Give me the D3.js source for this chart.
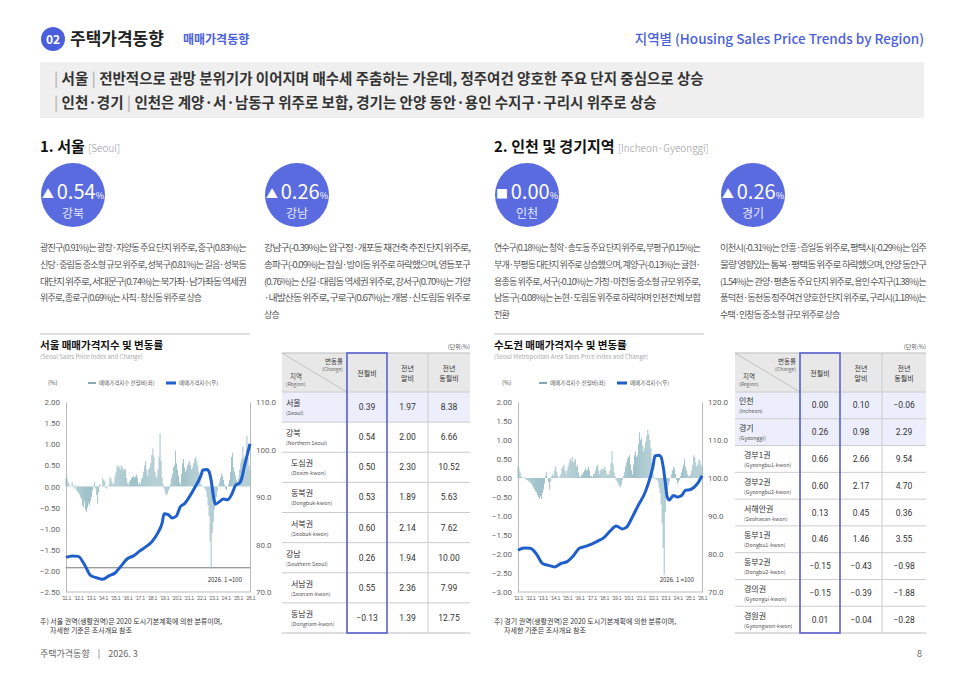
<!DOCTYPE html>
<html><head><meta charset="utf-8">
<script src="https://cdn.jsdelivr.net/npm/d3@7"></script>
<style>
body{margin:0;background:#fff;}
svg{font-family:"Noto Sans CJK KR","Noto Sans",sans-serif;}
</style></head><body>
<svg id="page" width="966" height="683"></svg>
<script>
// ---- data ----
var seoulBars = [
	0.20,0.18,0.12,0.05,-0.02,0.00,0.10,0.02,-0.05,0.03,-0.08,-0.12,
	-0.15,-0.18,-0.25,-0.30,-0.45,-0.50,-0.35,-0.55,-0.60,-0.50,-0.40,-0.45,
	-0.35,-0.25,-0.10,0.02,0.10,-0.05,-0.20,-0.40,-0.15,0.05,0.02,0.00,
	0.20,0.15,0.12,-0.03,-0.05,0.00,0.05,0.22,0.18,0.10,0.05,0.08,
	0.25,0.35,0.50,0.45,0.48,0.40,0.50,0.45,0.38,0.42,0.40,0.20,
	0.08,0.05,0.12,0.15,0.20,0.22,0.25,0.20,0.24,0.28,0.20,0.05,
	0.10,0.05,0.18,0.22,0.35,0.50,0.60,0.40,0.25,0.40,0.45,0.55,
	0.75,0.90,0.70,0.35,0.25,0.20,0.40,0.70,1.25,0.60,0.20,0.05,
	-0.05,-0.15,-0.20,-0.18,-0.10,-0.05,0.05,0.20,0.30,0.45,0.50,0.85,
	0.55,0.40,0.25,0.10,0.05,0.30,0.55,0.65,0.45,0.35,0.40,0.50,
	0.55,0.60,0.50,0.40,0.45,0.55,0.65,0.70,0.60,0.50,0.35,0.20,
	0.05,0.02,0.00,-0.02,-0.05,-0.10,-0.25,-0.45,-0.70,-1.30,-1.95,-1.10,
	-0.85,-0.55,-0.40,-0.25,-0.10,0.02,0.10,0.20,0.30,0.25,0.15,0.05,
	-0.05,-0.08,0.00,0.05,0.15,0.35,0.70,0.80,0.45,0.35,0.25,0.15,
	0.10,0.20,0.40,0.55,0.65,0.95,0.70,0.55,0.60,1.20,0.70,0.50,
	0.39];
var metroBars = [
	0.30,0.25,0.15,0.05,0.02,0.00,-0.02,0.02,-0.05,-0.05,-0.08,-0.10,
	-0.12,-0.15,-0.20,-0.25,-0.30,-0.35,-0.38,-0.45,-0.50,-0.55,-0.48,-0.55,
	-0.40,-0.30,-0.15,0.05,0.15,0.00,-0.10,-0.30,-0.10,0.05,0.10,0.05,
	0.20,0.30,0.15,0.05,0.00,0.05,0.10,0.25,0.30,0.35,0.20,0.10,
	0.20,0.30,0.40,0.50,0.45,0.55,0.40,0.45,0.50,0.30,0.35,0.15,
	0.05,0.02,0.08,0.10,0.15,0.20,0.25,0.20,0.22,0.30,0.20,0.05,
	0.05,0.03,0.10,0.12,0.20,0.30,0.35,0.20,0.10,0.20,0.25,0.20,
	0.25,0.30,0.20,0.10,0.08,0.10,0.20,0.40,0.70,0.35,0.15,0.05,
	-0.05,-0.10,-0.15,-0.20,-0.25,-0.18,-0.05,0.05,0.15,0.30,0.40,0.50,
	0.55,0.60,0.35,0.20,0.10,0.35,0.60,0.70,0.55,0.60,0.90,1.20,
	1.00,1.05,0.85,0.70,0.80,0.95,1.10,1.27,1.15,1.00,0.80,0.40,
	0.10,0.02,-0.02,-0.03,-0.05,-0.10,-0.25,-0.40,-0.70,-1.20,-1.85,-2.55,
	-0.90,-0.50,-0.30,-0.20,-0.10,0.00,0.10,0.20,0.30,0.25,0.10,-0.05,
	-0.15,-0.10,-0.05,0.05,0.15,0.25,0.35,0.50,0.30,0.20,0.10,0.05,
	0.05,0.10,0.20,0.35,0.60,0.55,0.40,0.30,0.35,0.50,0.45,0.35,
	0.30];
// index line: [months since 2011.1, index]
var seoulIndex = [[0,77.3],[6,77.6],[12,77.5],[18,75.8],[24,73.5],[30,73.0],[36,72.7],[42,73.4],[48,74.0],[54,75.5],
	[60,77.0],[66,77.6],[72,78.6],[78,79.5],[84,80.6],[90,82.5],[94,84.5],[96,86.5],[100,86.3],[104,85.6],
	[108,86.0],[112,88.0],[116,88.6],[120,89.8],[126,92.0],[132,94.5],[134,95.7],[138,95.8],[140,95.3],
	[142,93.5],[144,90.5],[146,88.5],[150,89.0],[154,89.6],[158,89.4],[162,90.5],[166,92.5],[170,93.0],
	[172,94.0],[174,96.0],[176,97.8],[178,99.5],[180,101.2]];
var metroIndex = [[0,81.0],[6,81.6],[12,81.5],[18,80.0],[24,77.5],[30,77.0],[36,76.6],[42,77.5],[48,78.0],[54,79.5],
	[60,81.5],[66,82.0],[72,82.6],[78,83.4],[84,84.3],[90,86.0],[96,87.4],[102,86.6],[106,87.0],[112,89.8],
	[118,93.0],[124,96.0],[128,99.0],[132,103.0],[134,105.8],[138,106.0],[140,105.5],[142,103.0],[144,99.0],
	[146,95.0],[148,94.2],[152,95.4],[156,95.0],[160,95.4],[164,96.8],[168,96.9],[172,97.5],[176,98.7],[180,100.6]];
var xTickLabels = ["'11.1","'12.1","'13.1","'14.1","'15.1","'16.1","'17.1","'18.1","'19.1","'20.1","'21.1","'22.1","'23.1","'24.1","'25.1","'26.1"];

var seoulRegions = ["서울","강북","도심권","동북권","서북권","강남","서남권","동남권"];
var seoulRegionsEn = ["(Seoul)","(Northern Seoul)","(Dosim-kwon)","(Dongbuk-kwon)","(Seobuk-kwon)","(Southern Seoul)","(Seonam-kwon)","(Dongnam-kwon)"];
var seoulMoM = ["0.39","0.54","0.50","0.53","0.60","0.26","0.55","−0.13"];
var seoulYtd = ["1.97","2.00","2.30","1.89","2.14","1.94","2.36","1.39"];
var seoulYoY = ["8.38","6.66","10.52","5.63","7.62","10.00","7.99","12.75"];
var seoulIndent = [0,0,1,1,1,0,1,1];
var seoulHighlight = [1,0,0,0,0,0,0,0];

var metroRegions = ["인천","경기","경부1권","경부2권","서해안권","동부1권","동부2권","경의권","경원권"];
var metroRegionsEn = ["(Incheon)","(Gyeonggi)","(Gyeongbu1-kwon)","(Gyeongbu2-kwon)","(Seohaean-kwon)","(Dongbu1-kwon)","(Dongbu2-kwon)","(Gyeongui-kwon)","(Gyeongwon-kwon)"];
var metroMoM = ["0.00","0.26","0.66","0.60","0.13","0.46","−0.15","−0.15","0.01"];
var metroYtd = ["0.10","0.98","2.66","2.17","0.45","1.46","−0.43","−0.39","−0.04"];
var metroYoY = ["−0.06","2.29","9.54","4.70","0.36","3.55","−0.98","−1.88","−0.28"];
var metroIndent = [0,0,1,1,1,1,1,1,1];
var metroHighlight = [1,1,0,0,0,0,0,0,0];

var circleVals = ["0.54","0.26","0.00","0.26"];
var circleNames = ["강북","강남","인천","경기"];
var circleMarks = ["▲","▲","■","▲"];

var paragraphs = [
	["광진구(0.91%)는 광장·자양동 주요 단지 위주로, 중구(0.83%)는","신당·중림동 중소형 규모 위주로, 성북구(0.81%)는 길음·성북동","대단지 위주로, 서대문구(0.74%)는 북가좌·남가좌동 역세권","위주로, 종로구(0.69%)는 사직·창신동 위주로 상승"],
	["강남구(-0.39%)는 압구정·개포동 재건축 추진 단지 위주로,","송파구(-0.09%)는 잠실·방이동 위주로 하락했으며, 영등포구","(0.76%)는 신길·대림동 역세권 위주로, 강서구(0.70%)는 가양","·내발산동 위주로, 구로구(0.67%)는 개봉·신도림동 위주로","상승"],
	["연수구(0.18%)는 청학·송도동 주요 단지 위주로, 부평구(0.15%)는","부개·부평동 대단지 위주로 상승했으며, 계양구(-0.13%)는 귤현·","용종동 위주로, 서구(-0.10%)는 가정·마전동 중소형 규모 위주로,","남동구(-0.08%)는 논현·도림동 위주로 하락하며 인천 전체 보합","전환"],
	["이천시(-0.31%)는 안흥·증일동 위주로, 평택시(-0.29%)는 입주","물량 영향있는 통복·평택동 위주로 하락했으며, 안양 동안구","(1.54%)는 관양·평촌동 주요 단지 위주로, 용인 수지구(1.38%)는","풍덕천·동천동 정주여건 양호한 단지 위주로, 구리시(1.18%)는","수택·인창동 중소형 규모 위주로 상승"]];

var BLUE = '#5a6be0', LINE = '#1f5fcc', BAR = '#93b9c2';
var svg = d3.select('#page');

// ---- header ----
svg.append('circle').attr('cx',53).attr('cy',39).attr('r',12).attr('fill','#4b5fdc');
svg.append('text').attr('x',53).attr('y',43.5).attr('text-anchor','middle').attr('fill','#fff')
	.attr('font-size',12).attr('font-weight',700).text('02');
svg.append('text').attr('x',70).attr('y',45).attr('font-size',17).attr('font-weight',700).attr('fill','#222').text('주택가격동향');
svg.append('text').attr('x',183).attr('y',44).attr('font-size',12).attr('font-weight',700).attr('fill','#4b5fdc').text('매매가격동향');
svg.append('text').attr('x',924).attr('y',44).attr('text-anchor','end').attr('font-size',13.5).attr('font-weight',500).attr('fill','#4b5fdc')
	.text('지역별 (Housing Sales Price Trends by Region)');

svg.append('rect').attr('x',40).attr('y',62).attr('width',884).attr('height',56).attr('fill','#efefef');
var headLines = [["서울","전반적으로 관망 분위기가 이어지며 매수세 주춤하는 가운데, 정주여건 양호한 주요 단지 중심으로 상승"],
	["인천·경기","인천은 계양·서·남동구 위주로 보합, 경기는 안양 동안·용인 수지구·구리시 위주로 상승"]];
headLines.forEach(function(l, i) {
	var t = svg.append('text').attr('x',54).attr('y',84 + i*24).attr('font-size',14.5).attr('font-weight',700).attr('fill','#333');
	t.append('tspan').attr('fill','#bbb').text('| ');
	t.append('tspan').text(l[0] + ' ');
	t.append('tspan').attr('fill','#bbb').text('| ');
	t.append('tspan').text(l[1]);
});

// ---- section titles ----
[[40,"1. 서울","[Seoul]"],[494,"2. 인천 및 경기지역","[Incheon·Gyeonggi]"]].forEach(function(s) {
	var t = svg.append('text').attr('x',s[0]).attr('y',152).attr('font-size',15).attr('font-weight',700).attr('fill','#111');
	t.append('tspan').text(s[1] + ' ');
	t.append('tspan').attr('font-size',10).attr('font-weight',300).attr('fill','#999').text(s[2]);
});

// ---- circles & paragraphs ----
var paraX = [40, 264, 494, 720];
paraX.forEach(function(px, i) {
	var cx = px + 33;
	svg.append('circle').attr('cx',cx).attr('cy',195).attr('r',32).attr('fill',BLUE);
	var t = svg.append('text').attr('x',cx).attr('y',199).attr('text-anchor','middle').attr('fill','#fff');
	t.append('tspan').attr('font-size',12).text(circleMarks[i] + ' ');
	t.append('tspan').attr('font-size',20).text(circleVals[i]);
	t.append('tspan').attr('font-size',9).text('%');
	svg.append('text').attr('x',cx).attr('y',218).attr('text-anchor','middle').attr('fill','#e6e8ff')
		.attr('font-size',12).text(circleNames[i]);
	paragraphs[i].forEach(function(line, j) {
		var tt = svg.append('text').attr('x',px).attr('y',251 + j*16.8).attr('font-size',9).attr('fill','#555')
			.attr('letter-spacing',-0.9).text(line);
		if (j < paragraphs[i].length - 1) tt.attr('textLength',206).attr('lengthAdjust','spacingAndGlyphs');
	});
});

// ---- charts ----
function drawChart(o) {
	var g = svg.append('g');
	g.append('line').attr('x1',o.left).attr('x2',o.left + 210).attr('y1',334).attr('y2',334).attr('stroke','#bbb');
	g.append('text').attr('x',o.left).attr('y',349).attr('font-size',10.5).attr('font-weight',700).attr('fill','#111').text(o.title);
	g.append('text').attr('x',o.left).attr('y',359).attr('font-size',6).attr('fill','#aaa').text(o.sub);

	var x = d3.scaleLinear().domain([0,180]).range([o.x0,o.x1]);
	var yL = d3.scaleLinear().domain(o.leftDomain).range([592,402]);
	var yR = d3.scaleLinear().domain(o.rightDomain).range([592,402]);
	var bw = (o.x1 - o.x0) / 181 * 0.85;

	// legend
	g.append('text').attr('x',o.left + 8).attr('y',385).attr('font-size',6).attr('fill','#555').text('(%)');
	g.append('line').attr('x1',o.lg).attr('x2',o.lg + 8).attr('y1',383).attr('y2',383).attr('stroke','#5d8c99').attr('stroke-width',1.5);
	g.append('text').attr('x',o.lg + 11).attr('y',385).attr('font-size',5.5).attr('fill','#555').text('매매가격지수 전월비(좌)');
	g.append('line').attr('x1',o.lg + 78).attr('x2',o.lg + 88).attr('y1',383).attr('y2',383).attr('stroke',LINE).attr('stroke-width',3);
	g.append('text').attr('x',o.lg + 91).attr('y',385).attr('font-size',5.5).attr('fill','#555').text('매매가격지수(우)');

	// axes
	var la = g.append('g').attr('transform','translate(' + o.x0 + ',0)')
		.call(d3.axisLeft(yL).tickValues(d3.range(o.leftDomain[0], o.leftDomain[1] + 0.01, 0.5)).tickFormat(d3.format('.2f')).tickSize(0).tickPadding(6));
	var ra = g.append('g').attr('transform','translate(' + o.x1 + ',0)')
		.call(d3.axisRight(yR).tickValues(d3.range(o.rightDomain[0], o.rightDomain[1] + 0.1, 10)).tickFormat(d3.format('.1f')).tickSize(0).tickPadding(6));
	[la, ra].forEach(function(a) {
		a.select('.domain').attr('stroke','#bbb');
		a.selectAll('text').attr('font-size',8).attr('fill','#666').attr('font-family','Roboto, sans-serif');
	});
	la.selectAll('text').text(function(d) { return d3.format('.2f')(d).replace('-0.00','0.00'); });
	g.append('line').attr('x1',o.x0).attr('x2',o.x1).attr('y1',592).attr('y2',592).attr('stroke','#bbb');

	var xa = g.append('g').attr('transform','translate(0,592)')
		.call(d3.axisBottom(x).tickValues(d3.range(0,181,12)).tickFormat(function(d, i) { return xTickLabels[i]; }).tickSize(0).tickPadding(4));
	xa.select('.domain').remove();
	xa.selectAll('text').attr('font-size',5.2).attr('fill','#666').attr('letter-spacing',-0.3);

	if (o.refLine) g.append('line').attr('x1',o.x0).attr('x2',o.x1).attr('y1',yR(o.refLine)).attr('y2',yR(o.refLine)).attr('stroke','#555').attr('stroke-width',0.8);

	g.append('g').selectAll('rect').data(o.bars).join('rect')
		.attr('x', function(d, i) { return x(i) - bw / 2; })
		.attr('width', bw)
		.attr('y', function(d) { return yL(Math.max(0, d)); })
		.attr('height', function(d) { return Math.abs(yL(d) - yL(0)); })
		.attr('fill', BAR);

	g.append('path').datum(o.line)
		.attr('d', d3.line().x(function(d) { return x(d[0]); }).y(function(d) { return yR(d[1]); }).curve(d3.curveMonotoneX))
		.attr('fill','none').attr('stroke',LINE).attr('stroke-width',3).attr('stroke-linejoin','round');

	g.append('text').attr('x',o.x1 - 8).attr('y',582).attr('text-anchor','end').attr('font-size',6).attr('fill','#333').text('2026. 1 =100');

	g.append('text').attr('x',o.left).attr('y',624).attr('font-size',7).attr('fill','#333').text(o.note);
	g.append('text').attr('x',o.left + 10).attr('y',633).attr('font-size',7).attr('fill','#333').text('자세한 기준은 조사개요 참조');
}

drawChart({left:40, title:'서울 매매가격지수 및 변동률', sub:'(Seoul Sales Price Index and Change)', lg:88,
	x0:66, x1:250, leftDomain:[-2.5,2.0], rightDomain:[70,110], bars:seoulBars, line:seoulIndex, refLine:75.1,
	note:'주) 서울 권역(생활권역)은 2020 도시기본계획에 의한 분류이며,'});
drawChart({left:494, title:'수도권 매매가격지수 및 변동률', sub:'(Seoul Metropolitan Area Sales Price Index and Change)', lg:539,
	x0:518, x1:702, leftDomain:[-3.0,2.0], rightDomain:[70,120], bars:metroBars, line:metroIndex,
	note:'주) 경기 권역(생활권역)은 2020 도시기본계획에 의한 분류이며,'});

// ---- tables ----
function drawTable(o) {
	var g = svg.append('g');
	var cols = o.cols, top = 353, hb = 392, bottom = 633;
	var rh = (bottom - hb) / o.regions.length;
	g.append('text').attr('x',cols[4]).attr('y',349).attr('text-anchor','end').attr('font-size',6).attr('fill','#555').text('(단위:%)');
	g.append('rect').attr('x',cols[0]).attr('y',top).attr('width',cols[4] - cols[0]).attr('height',hb - top).attr('fill','#e8e8e8');
	o.regions.forEach(function(r, i) {
		var y = hb + i * rh;
		g.append('rect').attr('x',cols[0]).attr('y',y).attr('width',cols[4] - cols[0]).attr('height',rh)
			.attr('fill', o.highlight[i] ? '#eceefb' : '#fff');
		g.append('line').attr('x1',cols[0]).attr('x2',cols[4]).attr('y1',y).attr('y2',y).attr('stroke','#ccc');
		var ix = cols[0] + 4 + o.indent[i] * 5;
		g.append('text').attr('x',ix).attr('y',y + rh / 2 - 1).attr('font-size',8).attr('fill','#333').text(r);
		g.append('text').attr('x',ix).attr('y',y + rh / 2 + 8).attr('font-size',5.3).attr('fill','#555').text(o.en[i]);
		[o.mom[i], o.ytd[i], o.yoy[i]].forEach(function(v, c) {
			g.append('text').attr('x',(cols[c + 1] + cols[c + 2]) / 2).attr('y',y + rh / 2 + 3).attr('text-anchor','middle')
				.attr('font-size',8.5).attr('fill','#333').attr('font-family','Roboto, sans-serif').text(v);
		});
	});
	g.append('line').attr('x1',cols[0]).attr('x2',cols[4]).attr('y1',top).attr('y2',top).attr('stroke','#bbb');
	g.append('line').attr('x1',cols[0]).attr('x2',cols[4]).attr('y1',bottom).attr('y2',bottom).attr('stroke','#bbb');
	[1,3].forEach(function(c) {
		g.append('line').attr('x1',cols[c]).attr('x2',cols[c]).attr('y1',top).attr('y2',bottom).attr('stroke','#ccc');
	});
	g.append('line').attr('x1',cols[0]).attr('x2',cols[1]).attr('y1',top).attr('y2',hb).attr('stroke','#aaa').attr('stroke-width',0.6);
	g.append('text').attr('x',cols[1] - 4).attr('y',364).attr('text-anchor','end').attr('font-size',6.5).attr('fill','#444').text('변동률');
	g.append('text').attr('x',cols[1] - 4).attr('y',371).attr('text-anchor','end').attr('font-size',5).attr('fill','#666').text('(Change)');
	g.append('text').attr('x',cols[0] + 8).attr('y',379).attr('font-size',6.5).attr('fill','#444').text('지역');
	g.append('text').attr('x',cols[0] + 4).attr('y',386).attr('font-size',5).attr('fill','#666').text('(Region)');
	var heads = [['전월비'],['전년','말비'],['전년','동월비']];
	heads.forEach(function(h, c) {
		var cx = (cols[c + 1] + cols[c + 2]) / 2;
		h.forEach(function(s, k) {
			g.append('text').attr('x',cx).attr('y',(h.length === 1 ? 376 : 371) + k * 10).attr('text-anchor','middle')
				.attr('font-size',7).attr('fill','#333').text(s);
		});
	});
	g.append('rect').attr('x',cols[1]).attr('y',top).attr('width',cols[2] - cols[1]).attr('height',bottom - top)
		.attr('fill','none').attr('stroke','#5a62d0').attr('stroke-width',1.6);
}
drawTable({cols:[282,347,387,428,470], regions:seoulRegions, en:seoulRegionsEn, mom:seoulMoM, ytd:seoulYtd, yoy:seoulYoY,
	indent:seoulIndent, highlight:seoulHighlight});
drawTable({cols:[735,800,840,882,926], regions:metroRegions, en:metroRegionsEn, mom:metroMoM, ytd:metroYtd, yoy:metroYoY,
	indent:metroIndent, highlight:metroHighlight});

// ---- footer ----
svg.append('text').attr('x',40).attr('y',657).attr('font-size',9).attr('fill','#666').attr('xml:space','preserve').text('주택가격동향    |    2026. 3');
svg.append('text').attr('x',922).attr('y',657).attr('text-anchor','end').attr('font-size',9).attr('fill','#666').text('8');
</script>
</body></html>
